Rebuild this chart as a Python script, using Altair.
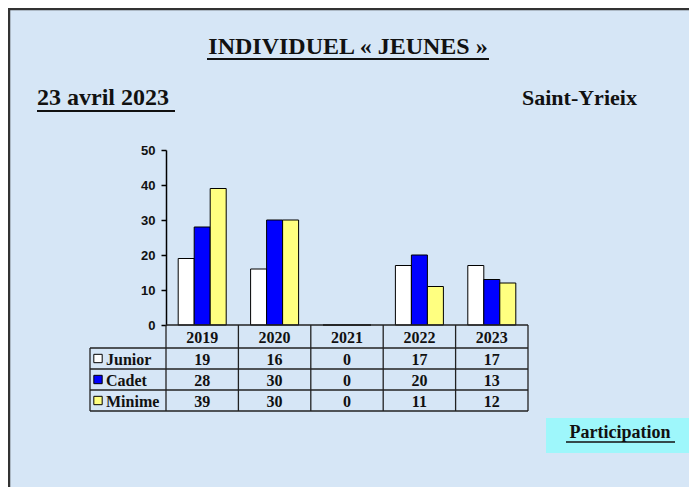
import altair as alt
import pandas as pd

# ---------------- data ----------------
years = ["2019", "2020", "2021", "2022", "2023"]
series = ["Junior", "Cadet", "Minime"]
junior = [19, 16, 0, 17, 17]
cadet = [28, 30, 0, 20, 13]
minime = [39, 30, 0, 11, 12]
y_ticks = [0, 10, 20, 30, 40, 50]

title_text = "INDIVIDUEL  \u00ab JEUNES \u00bb"
date_text = "23 avril 2023"
place_text = "Saint-Yrieix"
box_text = "Participation"

# ---------------- styles / layout ----------------
colors = ["#ffffff", "#0000ff", "#ffff80"]
BG = "#d6e6f6"
CYAN = "#9ef7fb"
SERIF = "Liberation Serif"
SANS = "Liberation Sans"

W, H = 362, 175
PAD = {"left": 158, "top": 142, "right": 161, "bottom": 162}
step = W / len(years)
ROW_Y = [175, 198, 219, 240, 261]
LABEL_X = -76

values = {"Junior": junior, "Cadet": cadet, "Minime": minime}
rows = []
for s in series:
    for yr, v in zip(years, values[s]):
        rows.append({"year": yr, "series": s, "value": v})
df = pd.DataFrame(rows)
one = pd.DataFrame({"k": [0]})

xscale = alt.Scale(type="band", domain=years, paddingInner=0.337, paddingOuter=0.1685)
yscale = alt.Scale(domain=[0, 50], nice=False)

bars = alt.Chart(df).mark_bar(stroke="black", strokeWidth=1).encode(
    x=alt.X("year:N", scale=xscale, axis=None),
    xOffset=alt.XOffset("series:N", scale=alt.Scale(domain=series, paddingInner=0, paddingOuter=0)),
    y=alt.Y(
        "value:Q",
        scale=yscale,
        axis=alt.Axis(
            values=y_ticks, title=None, grid=False,
            domainColor="black", domainWidth=1.5,
            tickColor="black", tickSize=5, tickWidth=1.5,
            labelFont=SANS, labelFontWeight="bold", labelFontSize=13,
            labelColor="#111111", labelPadding=6,
        ),
    ),
    fill=alt.Fill("series:N", scale=alt.Scale(domain=series, range=colors), legend=None),
)

# table grid
grid_rows = []
for i in range(len(years) + 1):
    grid_rows.append(dict(x=i * step, x2=i * step, y=ROW_Y[0], y2=ROW_Y[-1]))
grid_rows.append(dict(x=LABEL_X, x2=LABEL_X, y=ROW_Y[1], y2=ROW_Y[-1]))
grid_rows.append(dict(x=0, x2=W, y=ROW_Y[0], y2=ROW_Y[0]))
for yy in ROW_Y[1:]:
    grid_rows.append(dict(x=LABEL_X, x2=W, y=yy, y2=yy))
grid = alt.Chart(pd.DataFrame(grid_rows)).mark_rule(color="#222222", strokeWidth=1.3).encode(
    x=alt.X("x:Q", scale=None, axis=None),
    x2="x2:Q",
    y=alt.Y("y:Q", scale=None, axis=None),
    y2="y2:Q",
)

header = alt.Chart(pd.DataFrame({"year": years})).mark_text(
    font=SERIF, fontWeight="bold", fontSize=16, baseline="middle", color="#111111"
).encode(
    x=alt.X("year:N", scale=xscale, axis=None),
    y=alt.value((ROW_Y[0] + ROW_Y[1]) / 2 + 1),
    text="year:N",
)

layers = [bars, grid, header]
for i, s in enumerate(series):
    yc = (ROW_Y[i + 1] + ROW_Y[i + 2]) / 2 + 1
    layers.append(
        alt.Chart(df[df.series == s]).mark_text(
            font=SERIF, fontWeight="bold", fontSize=16, baseline="middle", color="#111111"
        ).encode(
            x=alt.X("year:N", scale=xscale, axis=None),
            y=alt.value(yc),
            text="value:Q",
        )
    )
    layers.append(
        alt.Chart(one).mark_square(size=70, fill=colors[i], stroke="black", strokeWidth=1, opacity=1).encode(
            x=alt.value(-68), y=alt.value(yc - 1)
        )
    )
    layers.append(
        alt.Chart(one).mark_text(
            text=s, font=SERIF, fontWeight="bold", fontSize=16, align="left", baseline="middle", color="#111111"
        ).encode(x=alt.value(-60), y=alt.value(yc))
    )

# titles
layers += [
    alt.Chart(one).mark_text(
        text=title_text, font=SERIF, fontWeight="bold", fontSize=24, align="center",
        baseline="alphabetic", color="#111111"
    ).encode(x=alt.value(182), y=alt.value(-96)),
    alt.Chart(one).mark_rule(color="#111111", strokeWidth=2).encode(
        x=alt.value(41), x2=alt.value(323), y=alt.value(-91)
    ),
    alt.Chart(one).mark_text(
        text=date_text, font=SERIF, fontWeight="bold", fontSize=24, align="left",
        baseline="alphabetic", color="#111111"
    ).encode(x=alt.value(-129), y=alt.value(-45)),
    alt.Chart(one).mark_rule(color="#111111", strokeWidth=2).encode(
        x=alt.value(-129), x2=alt.value(9), y=alt.value(-39)
    ),
    alt.Chart(one).mark_text(
        text=place_text, font=SERIF, fontWeight="bold", fontSize=22, align="left",
        baseline="alphabetic", color="#111111"
    ).encode(x=alt.value(356), y=alt.value(-45)),
    alt.Chart(one).mark_rect(fill=CYAN).encode(
        x=alt.value(380), x2=alt.value(523), y=alt.value(268), y2=alt.value(303)
    ),
    alt.Chart(one).mark_text(
        text=box_text, font=SERIF, fontWeight="bold", fontSize=18, align="center",
        baseline="alphabetic", color="#111111"
    ).encode(x=alt.value(454), y=alt.value(288)),
    alt.Chart(one).mark_rule(color="#111111", strokeWidth=1.5).encode(
        x=alt.value(400), x2=alt.value(509), y=alt.value(292)
    ),
    # frame (top and left edges)
    alt.Chart(one).mark_rule(color="#333333", strokeWidth=2.5).encode(
        x=alt.value(-158), x2=alt.value(W + PAD["right"]), y=alt.value(-141)
    ),
    alt.Chart(one).mark_rule(color="#333333", strokeWidth=2.5).encode(
        x=alt.value(-157), y=alt.value(-142), y2=alt.value(H + PAD["bottom"])
    ),
]

chart = alt.layer(*layers).properties(
    width=W,
    height=H,
    autosize=alt.AutoSizeParams(type="none"),
    padding=PAD,
    background=BG,
).configure_view(stroke=None)

chart.save("out.html", embed_options={"renderer": "svg", "actions": False})
